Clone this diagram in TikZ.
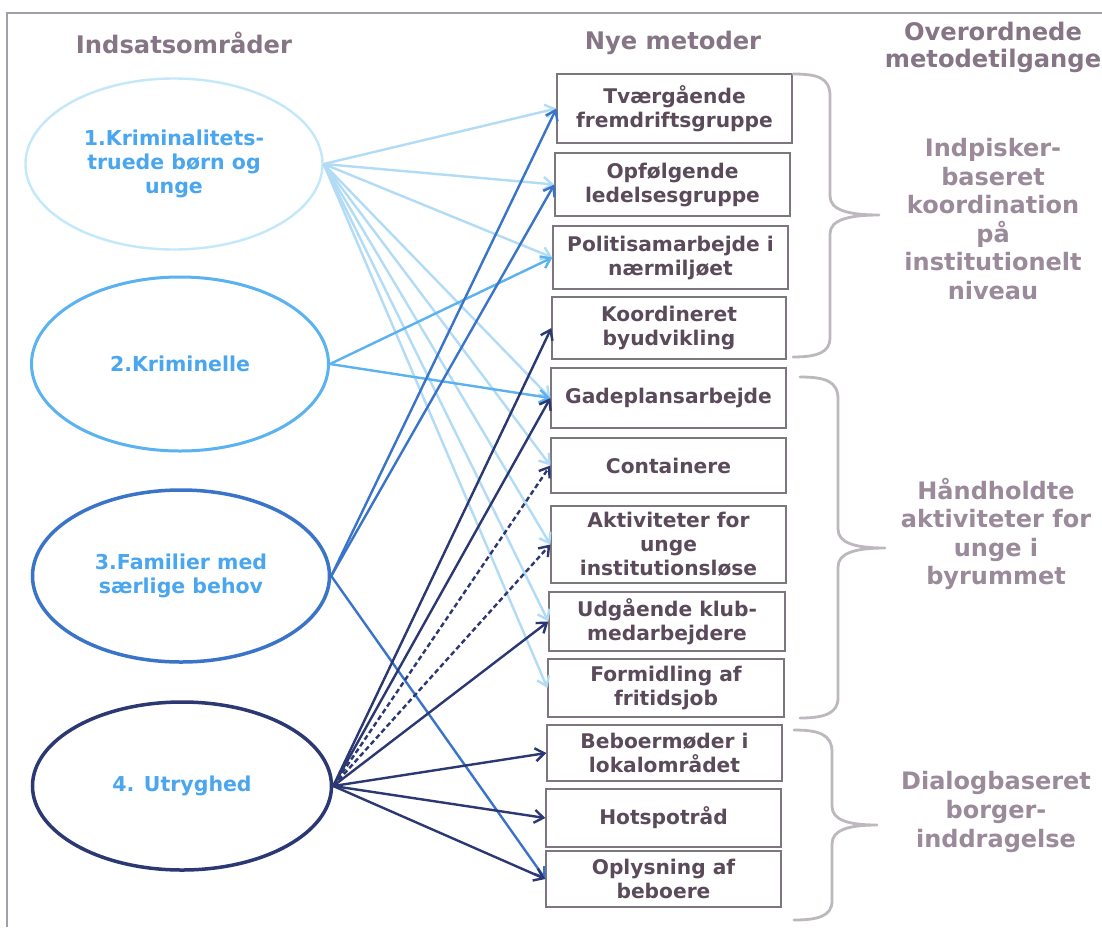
\documentclass[tikz,border=0pt]{standalone}
\usepackage{fontspec}
\setmainfont{DejaVu Sans}
\usetikzlibrary{arrows.meta,shapes.geometric}
\definecolor{c1}{HTML}{C2E8FA}
\definecolor{a1}{HTML}{B2DCF6}
\definecolor{c2}{HTML}{5AB2F0}
\definecolor{c3}{HTML}{3A74C8}
\definecolor{c4}{HTML}{2B3872}
\definecolor{etext}{HTML}{4AA6EE}
\definecolor{boxtext}{HTML}{5A4A5A}
\definecolor{headc}{HTML}{857585}
\definecolor{sidec}{HTML}{9A8A9A}
\definecolor{bracec}{HTML}{BDB8BD}
\definecolor{framec}{HTML}{A0A0AC}
\definecolor{boxline}{HTML}{7E767E}
\begin{document}
\begin{tikzpicture}[x=1pt,y=-1pt,
  ell/.style={ellipse, inner sep=0pt, align=center, text=etext, font=\fontsize{20.5}{24}\selectfont\bfseries},
  mbox/.style={draw=boxline, line width=1.3pt, fill=white, inner sep=0pt, align=center, text=boxtext, font=\fontsize{20.2}{24}\selectfont\bfseries},
  headlbl/.style={text=headc, align=center, font=\fontsize{24.2}{27}\selectfont\bfseries},
  sidelbl/.style={text=sidec, align=center, font=\fontsize{24}{28.6}\selectfont\bfseries},
  tip/.style={-{Straight Barb[length=9pt,width=13pt]}},
  conA/.style={tip, draw=a1, line width=2.4pt},
  conB/.style={tip, draw=c2, line width=2.4pt},
  conC/.style={tip, draw=c3, line width=2.4pt},
  conD/.style={tip, draw=c4, line width=2.4pt},
  dashD/.style={conD, dash pattern=on 5pt off 3pt},
  bracestyle/.style={draw=bracec, line width=2.8pt, line cap=round, line join=round}
]
\useasboundingbox (0,0) rectangle (1102,927);
\fill[white] (0,0) rectangle (1102,927);
\draw[framec, line width=1.2pt] (7,927) -- (7,13) -- (1102,13);

% headers
\node[headlbl] (h1) at (184,43) {Indsatsområder};
\node[headlbl] (h2) at (673,43) {Nye metoder};
\node[headlbl] (h3) at (993,47) {Overordnede\\metodetilgange};

% ellipses
\node[ell, draw=c1, line width=2.4pt, minimum width=297pt, minimum height=171pt] (e1) at (174,164) {1.Kriminalitets-\\truede børn og\\unge};
\node[ell, draw=c2, line width=3pt, minimum width=297pt, minimum height=174pt] (e2) at (180,364) {2.Kriminelle};
\node[ell, draw=c3, line width=3.5pt, minimum width=297pt, minimum height=172pt] (e3) at (181,576) {3.Familier med\\særlige behov};
\node[ell, draw=c4, line width=3.5pt, minimum width=299pt, minimum height=168pt] (e4) at (182,786) {4. Utryghed};

% boxes
\node[mbox, minimum width=235pt, minimum height=69pt] (b1) at (674.5,108.5) {Tværgående\\fremdriftsgruppe};
\node[mbox, minimum width=235pt, minimum height=63pt] (b2) at (672.5,184.5) {Opfølgende\\ledelsesgruppe};
\node[mbox, minimum width=235pt, minimum height=63pt] (b3) at (670.5,257.5) {Politisamarbejde i\\nærmiljøet};
\node[mbox, minimum width=234pt, minimum height=62pt] (b4) at (669,328) {Koordineret\\byudvikling};
\node[mbox, minimum width=235pt, minimum height=60pt] (b5) at (668.5,398) {Gadeplansarbejde};
\node[mbox, minimum width=235pt, minimum height=55pt] (b6) at (668.5,465.5) {Containere};
\node[mbox, minimum width=235pt, minimum height=77pt] (b7) at (668.5,544.5) {Aktiviteter for\\unge\\institutionsløse};
\node[mbox, minimum width=236pt, minimum height=59pt] (b8) at (667,621.5) {Udgående klub-\\medarbejdere};
\node[mbox, minimum width=236pt, minimum height=58pt] (b9) at (666,688) {Formidling af\\fritidsjob};
\node[mbox, minimum width=235pt, minimum height=56pt] (b10) at (664.5,753) {Beboermøder i\\lokalområdet};
\node[mbox, minimum width=235pt, minimum height=58pt] (b11) at (663.5,818) {Hotspotråd};
\node[mbox, minimum width=235pt, minimum height=56pt] (b12) at (663.5,879) {Oplysning af\\beboere};

% connectors from 1
\foreach \b in {b1,b2,b3,b5,b6,b7,b8,b9} \draw[conA] (e1.east) -- (\b.west);
% from 2
\foreach \b in {b3,b5} \draw[conB] (e2.east) -- (\b.west);
% from 3
\foreach \b in {b1,b2,b12} \draw[conC] (e3.east) -- (\b.west);
% from 4
\foreach \b in {b4,b5,b8,b10,b11,b12} \draw[conD] (e4.east) -- (\b.west);
\foreach \b in {b6,b7} \draw[dashD] (e4.east) -- (\b.west);

% braces
\draw[bracestyle] (793,74) .. controls (818,74) and (830,78) .. (830,96) -- (830,196) .. controls (830,210) and (848,215) .. (879,215)
  .. controls (848,215) and (830,220) .. (830,234) -- (830,338) .. controls (830,352) and (818,357) .. (793,357);
\draw[bracestyle] (800,377) .. controls (825,377) and (838,381) .. (838,399) -- (838,529) .. controls (838,543) and (855,548) .. (885,548)
  .. controls (855,548) and (838,553) .. (838,567) -- (838,698) .. controls (838,713) and (825,718) .. (800,718);
\draw[bracestyle] (794,730) .. controls (818,730) and (832,734) .. (832,752) -- (832,806) .. controls (832,820) and (848,825) .. (877,825)
  .. controls (848,825) and (832,830) .. (832,844) -- (832,901) .. controls (832,916) and (818,920) .. (794,920);

% side labels
\node[sidelbl] (s1) at (993,219) {Indpisker-\\baseret\\koordination\\på\\institutionelt\\niveau};
\node[sidelbl] (s2) at (996,534) {Håndholdte\\aktiviteter for\\unge i\\byrummet};
\node[sidelbl] (s3) at (996,812) {Dialogbaseret\\borger-\\inddragelse};
\end{tikzpicture}
\end{document}
